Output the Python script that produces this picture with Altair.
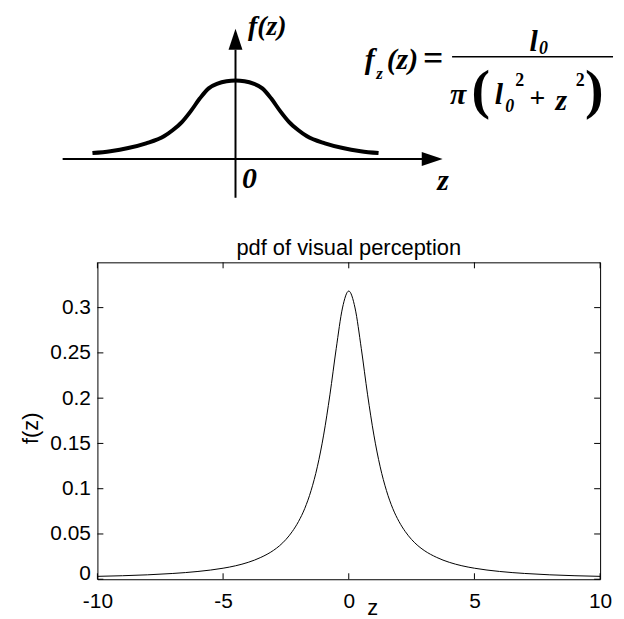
import altair as alt
import pandas as pd

# ---- bottom plot data ----
z_vals = [-10, -9, -8, -7, -6, -5, -4.5, -4, -3.5, -3, -2.75, -2.5, -2.25, -2,
          -1.75, -1.5, -1.25, -1, -0.75, -0.5, -0.25, 0,
          0.25, 0.5, 0.75, 1, 1.25, 1.5, 1.75, 2, 2.25, 2.5, 2.75, 3,
          3.5, 4, 4.5, 5, 6, 7, 8, 9, 10]
f_vals = [0.0032, 0.0039, 0.0049, 0.0064, 0.0086, 0.0122, 0.0149, 0.0187, 0.0241, 0.0318,
          0.0371, 0.0439, 0.0526, 0.0637, 0.0782, 0.0979, 0.1242, 0.1592, 0.2037, 0.2546,
          0.2996, 0.3183,
          0.2996, 0.2546, 0.2037, 0.1592, 0.1242, 0.0979, 0.0782, 0.0637, 0.0526, 0.0439,
          0.0371, 0.0318, 0.0241, 0.0187, 0.0149, 0.0122, 0.0086, 0.0064, 0.0049, 0.0039,
          0.0032]
x_ticks = [-10, -5, 0, 5, 10]
y_ticks = [0, 0.05, 0.1, 0.15, 0.2, 0.25, 0.3]

# ---- schematic curve (sketch at the top) ----
sk_x = [-4, -3.5, -3, -2.5, -2, -1.75, -1.5, -1.25, -1, -0.75, -0.5, -0.25, 0,
        0.25, 0.5, 0.75, 1, 1.25, 1.5, 1.75, 2, 2.5, 3, 3.5, 4]
sk_y = [0.076, 0.10, 0.14, 0.20, 0.29, 0.37, 0.47, 0.61, 0.77, 0.90, 0.96, 0.99, 1.0,
        0.99, 0.96, 0.90, 0.77, 0.61, 0.47, 0.37, 0.29, 0.20, 0.14, 0.10, 0.076]

W, H = 506, 319
SANS = "Liberation Sans"
SERIF = "Liberation Serif"

df = pd.DataFrame({"z": z_vals, "f": f_vals})
df_sk = pd.DataFrame({"sx": sk_x, "sy": sk_y})
one = pd.DataFrame({"k": [0]})

xs = alt.Scale(domain=[-10, 10], nice=False, zero=False)
ys = alt.Scale(domain=[0, 0.35], nice=False, zero=False)

curve = alt.Chart(df).mark_line(color="black", strokeWidth=1, interpolate="monotone").encode(
    x=alt.X("z:Q", scale=xs, axis=alt.Axis(values=x_ticks, ticks=False, domain=False, grid=False,
                                           labelFont=SANS, labelFontSize=21, labelColor="black",
                                           labelPadding=11, labelFlush=False, title=None,
                                           labelExpr="toString(datum.value)")),
    y=alt.Y("f:Q", scale=ys, axis=alt.Axis(values=y_ticks, format="~g", ticks=False, domain=False,
                                           grid=False, labelFont=SANS, labelFontSize=21,
                                           labelColor="black", labelPadding=7, title=None,
                                           labelBaseline=alt.condition("datum.value == 0",
                                                                       alt.value("alphabetic"),
                                                                       alt.value("middle")))),
)

xt = alt.Chart(pd.DataFrame({"t": x_ticks}))
yt = alt.Chart(pd.DataFrame({"t": y_ticks}))
tick_b = xt.mark_rule(color="black").encode(x=alt.X("t:Q", scale=xs), y=alt.value(H), y2=alt.value(H - 6))
tick_t = xt.mark_rule(color="black").encode(x=alt.X("t:Q", scale=xs), y=alt.value(0), y2=alt.value(6))
tick_l = yt.mark_rule(color="black").encode(y=alt.Y("t:Q", scale=ys), x=alt.value(0), x2=alt.value(6))
tick_r = yt.mark_rule(color="black").encode(y=alt.Y("t:Q", scale=ys), x=alt.value(W), x2=alt.value(W - 6))

main = alt.layer(curve, tick_b, tick_t, tick_l, tick_r)

sketch = alt.Chart(df_sk).mark_line(color="black", strokeWidth=4, interpolate="monotone").encode(
    x=alt.X("sx:Q", scale=alt.Scale(domain=[-4, 4], range=[-5, 283]), axis=None),
    y=alt.Y("sy:Q", scale=alt.Scale(domain=[0, 1], range=[-104, -183]), axis=None),
)


def txt(s, x, y, size, italic=True, font=SERIF, weight="bold", angle=0):
    return alt.Chart(one).mark_text(
        text=s, font=font, fontSize=size, fontStyle="italic" if italic else "normal",
        fontWeight=weight, color="black", align="center", baseline="middle", angle=angle,
    ).encode(x=alt.value(x), y=alt.value(y))


def rule(x1, x2, y1, y2, w):
    return alt.Chart(one).mark_rule(color="black", strokeWidth=w).encode(
        x=alt.value(x1), x2=alt.value(x2), y=alt.value(y1), y2=alt.value(y2))


arrow_up = alt.Chart(one).mark_point(
    shape="M-0.667,1 L0,-1 L0.667,1 Z", filled=True, color="black", opacity=1, size=441
).encode(x=alt.value(139), y=alt.value(-224.5))
arrow_right = alt.Chart(one).mark_point(
    shape="M-1,-0.667 L1,0 L-1,0.667 Z", filled=True, color="black", opacity=1, size=441
).encode(x=alt.value(337), y=alt.value(-104))

annotations = [
    rule(-35, 328, -104, -104, 2),
    rule(139, 139, -65, -214, 2),
    arrow_up, arrow_right,
    txt("f(z)", 171, -237, 28),
    txt("0", 153, -84, 30),
    txt("z", 348, -82, 30),
    # formula
    txt("f", 274, -204, 30),
    txt("z", 284, -190, 17),
    txt("(z)", 307, -204, 30),
    txt("=", 338, -205, 36, italic=False),
    rule(357, 519, -207, -207, 1.5),
    txt("l", 439, -222, 30),
    txt("0", 449, -215, 18),
    txt("π", 363, -168, 30),
    txt("(", 386, -172, 56, italic=False),
    txt("l", 404, -168, 30),
    txt("0", 415, -156, 18),
    txt("2", 425, -183, 18, italic=False),
    txt("+", 443, -164, 28, italic=False),
    txt("z", 467, -162, 30),
    txt("2", 486, -183, 18, italic=False),
    txt(")", 500, -172, 56, italic=False),
    # bottom plot texts
    txt("pdf of visual perception", W / 2, -14, 22, italic=False, font=SANS, weight="normal"),
    txt("f(z)", -67, 167, 22, italic=False, font=SANS, weight="normal", angle=270),
    txt("z", 277, 348, 22, italic=False, font=SANS, weight="normal"),
]

chart = alt.layer(main, sketch, *annotations).resolve_scale(
    x="independent", y="independent"
).properties(
    width=W, height=H,
    padding={"left": 90, "top": 254, "right": 16, "bottom": 38},
    autosize=alt.AutoSizeParams(type="none"),
    background="white",
).configure_view(stroke="black", strokeWidth=1)

chart.save("out.html", embed_options={"renderer": "svg", "actions": False})
